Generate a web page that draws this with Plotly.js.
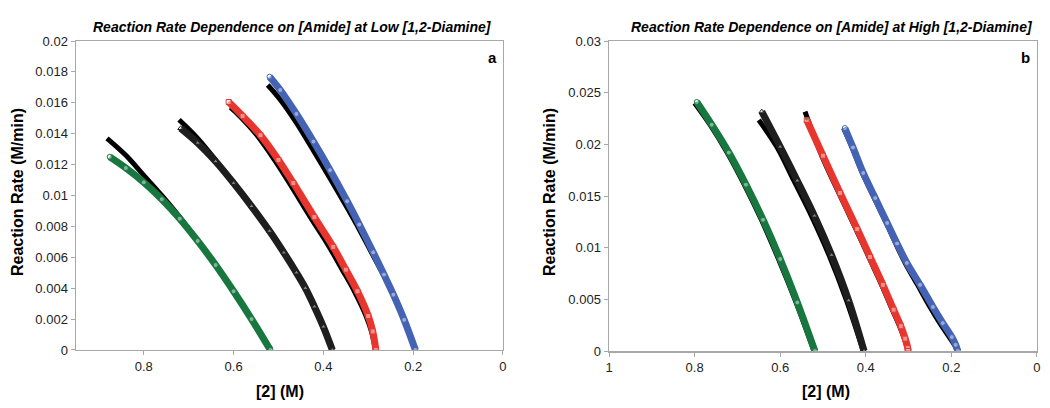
<!DOCTYPE html>
<html>
<head>
<meta charset="utf-8">
<script src="https://cdn.plot.ly/plotly-3.0.1.min.js"></script>
<style>html,body{margin:0;padding:0;background:#fff;}#chart{width:1050px;height:408px;}</style>
</head>
<body>
<div id="chart"></div>
<script>
// ---------- Panel a: low [1,2-diamine] ----------
var aGreenX = [0.876,0.84,0.80,0.76,0.72,0.68,0.64,0.60,0.56,0.518];
var aGreenY = [0.0125,0.01178,0.01085,0.00976,0.0085,0.00706,0.0055,0.0038,0.0020,0];
var aGreenFitX = [0.882,0.84,0.80,0.76,0.72,0.68,0.64,0.60,0.56,0.518];
var aGreenFitY = [0.0137,0.0126,0.0113,0.0100,0.0086,0.00706,0.0055,0.0038,0.0020,0];

var aTriX = [0.718,0.68,0.64,0.60,0.56,0.52,0.488,0.46,0.44,0.42,0.40,0.38];
var aTriY = [0.01435,0.0134,0.0122,0.0108,0.0093,0.0077,0.0063,0.0050,0.0040,0.0028,0.0015,0];
var aTriFitX = [0.7215,0.68,0.64,0.60,0.56,0.52,0.488,0.46,0.44,0.42,0.40,0.38];
var aTriFitY = [0.0149,0.0137,0.0123,0.0108,0.0093,0.0077,0.0063,0.0050,0.0040,0.0028,0.0015,0];

var aRedX = [0.611,0.58,0.54,0.50,0.467,0.42,0.378,0.35,0.324,0.30,0.29,0.283];
var aRedY = [0.01605,0.01515,0.0139,0.0123,0.01081,0.0086,0.00667,0.0052,0.0038,0.0022,0.0012,0];
var aRedFitX = [0.607,0.585,0.548,0.509,0.476,0.429,0.387,0.358,0.331,0.305,0.293,0.284];
var aRedFitY = [0.0157,0.0151,0.0139,0.0123,0.01081,0.0086,0.00667,0.0052,0.0038,0.0022,0.0012,0];

var aBlueX = [0.52,0.496,0.46,0.422,0.385,0.347,0.32,0.289,0.265,0.244,0.22,0.195];
var aBlueY = [0.01769,0.01683,0.01528,0.01349,0.01164,0.00963,0.00812,0.00632,0.00488,0.00358,0.00195,0];
var aBlueFitX = [0.524,0.496,0.46,0.422,0.385,0.347,0.32,0.289,0.265,0.244,0.22,0.195];
var aBlueFitY = [0.01715,0.0162,0.0147,0.0129,0.0111,0.0092,0.0078,0.0061,0.0048,0.0036,0.00195,0];

// ---------- Panel b: high [1,2-diamine] ----------
var bGreenX = [0.795,0.76,0.72,0.68,0.64,0.60,0.56,0.519];
var bGreenY = [0.0241,0.0219,0.0192,0.0161,0.0127,0.0089,0.0047,0];
var bGreenFitX = [0.80,0.764,0.724,0.684,0.644,0.604,0.563,0.521];
var bGreenFitY = [0.0240,0.0219,0.0192,0.0161,0.0127,0.0089,0.0047,0];

var bTriX = [0.643,0.60,0.56,0.52,0.48,0.44,0.404];
var bTriY = [0.02316,0.01976,0.01648,0.01308,0.00928,0.00488,0];
var bTriFitX = [0.65,0.608,0.568,0.527,0.486,0.445,0.406];
var bTriFitY = [0.02235,0.01976,0.01648,0.01308,0.00928,0.00488,0];

var bRedX = [0.538,0.50,0.46,0.42,0.39,0.36,0.335,0.318,0.308,0.302,0.301];
var bRedY = [0.02235,0.0189,0.0153,0.0118,0.0091,0.0064,0.0040,0.0024,0.0012,0.0003,0];
var bRedFitX = [0.542,0.503,0.463,0.423,0.393,0.363,0.338,0.321,0.31,0.303,0.301];
var bRedFitY = [0.02316,0.0189,0.0153,0.0118,0.0091,0.0064,0.0040,0.0024,0.0012,0.0003,0];

var bBlueX = [0.449,0.43,0.406,0.378,0.35,0.327,0.304,0.273,0.243,0.22,0.199,0.19,0.185];
var bBlueY = [0.02158,0.0197,0.01723,0.0148,0.01239,0.0104,0.00852,0.0064,0.00426,0.0027,0.00135,0.0006,0];
var bBlueFitX = [0.452,0.432,0.408,0.38,0.352,0.33,0.308,0.279,0.25,0.227,0.205,0.193,0.186];
var bBlueFitY = [0.02158,0.0197,0.01723,0.0148,0.01239,0.0104,0.00852,0.0064,0.00426,0.0027,0.00135,0.0006,0];

var GREEN = '#17773f', RED = '#e8362f', BLUE = '#4563b4', BLACK = '#000000', TRI = '#1e1e1e';

function fit(x, y, xa, ya) {
  return {x: x, y: y, xaxis: xa, yaxis: ya, type: 'scatter', mode: 'lines',
    line: {color: BLACK, width: 5, shape: 'spline', smoothing: 1}, hoverinfo: 'skip', showlegend: false};
}
function data(x, y, xa, ya, color, symbol) {
  return {x: x, y: y, xaxis: xa, yaxis: ya, type: 'scatter', mode: 'lines+markers',
    line: {color: color, width: 7, shape: 'spline', smoothing: 1},
    marker: {symbol: symbol, size: 5, color: 'rgba(255,255,255,0.45)', line: {color: color, width: 1}},
    showlegend: false};
}

var traces = [
  fit(aGreenFitX, aGreenFitY, 'x', 'y'),
  fit(aTriFitX, aTriFitY, 'x', 'y'),
  fit(aRedFitX, aRedFitY, 'x', 'y'),
  fit(aBlueFitX, aBlueFitY, 'x', 'y'),
  data(aGreenX, aGreenY, 'x', 'y', GREEN, 'circle'),
  data(aTriX, aTriY, 'x', 'y', TRI, 'triangle-up'),
  data(aRedX, aRedY, 'x', 'y', RED, 'square'),
  data(aBlueX, aBlueY, 'x', 'y', BLUE, 'circle'),
  fit(bGreenFitX, bGreenFitY, 'x2', 'y2'),
  fit(bTriFitX, bTriFitY, 'x2', 'y2'),
  fit(bRedFitX, bRedFitY, 'x2', 'y2'),
  fit(bBlueFitX, bBlueFitY, 'x2', 'y2'),
  data(bGreenX, bGreenY, 'x2', 'y2', GREEN, 'circle'),
  data(bTriX, bTriY, 'x2', 'y2', TRI, 'triangle-up'),
  data(bRedX, bRedY, 'x2', 'y2', RED, 'square'),
  data(bBlueX, bBlueY, 'x2', 'y2', BLUE, 'circle')
];

var FONT = 'Liberation Sans, Arial, sans-serif';
function xax(domain, range, dtick) {
  return {domain: domain, range: range, dtick: dtick, tick0: 0, showgrid: false, zeroline: false,
    showline: true, linecolor: '#a8a8a8', linewidth: 1.5, mirror: true,
    ticks: 'outside', ticklen: 4, tickcolor: '#a8a8a8', tickwidth: 1,
    tickfont: {family: FONT, size: 13, color: '#222'}, automargin: false, fixedrange: true};
}
function yax(domain, range, dtick, anchor) {
  return {domain: domain, range: range, dtick: dtick, tick0: 0, showgrid: false, zeroline: false,
    showline: true, linecolor: '#a8a8a8', linewidth: 1.5, mirror: true, anchor: anchor,
    ticks: 'outside', ticklen: 4, tickcolor: '#a8a8a8', tickwidth: 1,
    tickfont: {family: FONT, size: 13, color: '#222'}, automargin: false, fixedrange: true};
}

var layout = {
  width: 1050, height: 408,
  margin: {l: 0, r: 0, t: 0, b: 0},
  paper_bgcolor: '#fff', plot_bgcolor: '#fff',
  showlegend: false,
  xaxis: Object.assign(xax([0.0724, 0.4790], [0.951, 0], 0.2), {anchor: 'y'}),
  yaxis: yax([0.1422, 0.8995], [0, 0.02], 0.002, 'x'),
  xaxis2: Object.assign(xax([0.58, 0.9876], [1, 0], 0.2), {anchor: 'y2'}),
  yaxis2: yax([0.1397, 0.8995], [0, 0.03], 0.005, 'x2'),
  annotations: [
    {text: '<b><i>Reaction Rate Dependence on [Amide] at Low [1,2-Diamine]</i></b>', xref: 'paper', yref: 'paper',
     x: 292/1050, y: 1 - 27/408, xanchor: 'center', yanchor: 'middle', showarrow: false, font: {family: FONT, size: 14, color: '#000'}},
    {text: '<b><i>Reaction Rate Dependence on [Amide] at High [1,2-Diamine]</i></b>', xref: 'paper', yref: 'paper',
     x: 832/1050, y: 1 - 27/408, xanchor: 'center', yanchor: 'middle', showarrow: false, font: {family: FONT, size: 14, color: '#000'}},
    {text: '<b>Reaction Rate (M/min)</b>', xref: 'paper', yref: 'paper', textangle: -90,
     x: 17/1050, y: 1 - 192/408, xanchor: 'center', yanchor: 'middle', showarrow: false, font: {family: FONT, size: 16, color: '#000'}},
    {text: '<b>Reaction Rate (M/min)</b>', xref: 'paper', yref: 'paper', textangle: -90,
     x: 549/1050, y: 1 - 192/408, xanchor: 'center', yanchor: 'middle', showarrow: false, font: {family: FONT, size: 16, color: '#000'}},
    {text: '<b>[2] (M)</b>', xref: 'paper', yref: 'paper',
     x: 280/1050, y: 1 - 391/408, xanchor: 'center', yanchor: 'middle', showarrow: false, font: {family: FONT, size: 16, color: '#000'}},
    {text: '<b>[2] (M)</b>', xref: 'paper', yref: 'paper',
     x: 826/1050, y: 1 - 391/408, xanchor: 'center', yanchor: 'middle', showarrow: false, font: {family: FONT, size: 16, color: '#000'}},
    {text: '<b>a</b>', xref: 'paper', yref: 'paper',
     x: 492/1050, y: 1 - 58/408, xanchor: 'center', yanchor: 'middle', showarrow: false, font: {family: FONT, size: 15, color: '#000'}},
    {text: '<b>b</b>', xref: 'paper', yref: 'paper',
     x: 1025/1050, y: 1 - 58/408, xanchor: 'center', yanchor: 'middle', showarrow: false, font: {family: FONT, size: 15, color: '#000'}}
  ]
};

Plotly.newPlot('chart', traces, layout, {displayModeBar: false, staticPlot: true});
</script>
</body>
</html>
